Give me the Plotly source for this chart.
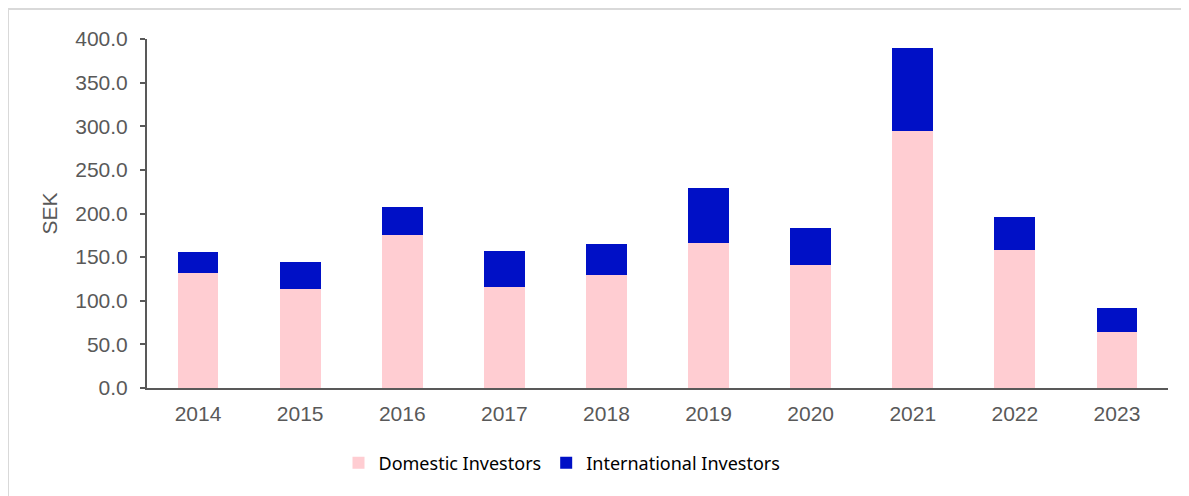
import plotly.graph_objects as go

years = ["2014", "2015", "2016", "2017", "2018", "2019", "2020", "2021", "2022", "2023"]
domestic = [131.5, 113.5, 175.0, 115.5, 129.5, 166.0, 140.5, 294.0, 158.0, 64.0]
international = [24.0, 31.0, 32.5, 41.5, 35.5, 63.0, 43.0, 95.5, 38.0, 28.0]

# page has an 8px body margin; work in page pixel coordinates
OFF = 8
W, H = 1189 - OFF, 496 - OFF
L, R, T, B = 147 - OFF, 21, 39 - OFF, 108
pw, ph = W - L - R, H - T - B

def px_x(x):  # page px -> paper
    return (x - OFF - L) / pw

def px_y(y):
    return (H - B - (y - OFF)) / ph

fig = go.Figure()
fig.add_trace(go.Bar(x=years, y=domestic, name="Domestic Investors",
                     marker=dict(color="#FFCDD2", line=dict(width=0))))
fig.add_trace(go.Bar(x=years, y=international, name="International Investors",
                     marker=dict(color="#0010C6", line=dict(width=0))))

fig.update_layout(
    width=W, height=H,
    margin=dict(l=L, r=R, t=T, b=B, autoexpand=False),
    barmode="stack", bargap=0.6,
    plot_bgcolor="white", paper_bgcolor="white",
    font=dict(family="Liberation Sans", color="#595959", size=21),
    showlegend=True,
    legend=dict(orientation="h", traceorder="normal",
                x=px_x(562), xanchor="center", y=px_y(463), yanchor="middle",
                font=dict(family="Noto Sans", size=18, color="#000000"),
                bgcolor="rgba(0,0,0,0)"),
    xaxis=dict(showline=True, linecolor="#595959", linewidth=2, ticks="",
               showgrid=False, ticklabelstandoff=6,
               tickfont=dict(family="Liberation Sans", size=21, color="#595959")),
    yaxis=dict(range=[0, 400], dtick=50, tickformat=".1f", showline=True,
               linecolor="#595959", linewidth=2, ticks="outside", ticklen=5,
               tickcolor="#595959", tickwidth=2, showgrid=False, zeroline=False,
               ticklabelstandoff=8,
               tickfont=dict(family="Liberation Sans", size=21, color="#595959"),
               title=dict(text="SEK", font=dict(family="Liberation Sans", size=21, color="#595959"),
                          standoff=12)),
    shapes=[dict(type="rect", xref="paper", yref="paper",
                 x0=px_x(8), x1=px_x(1220), y0=px_y(520), y1=px_y(9),
                 line=dict(color="#D9D9D9", width=2), layer="below")],
)

fig.write_html("out.html")
